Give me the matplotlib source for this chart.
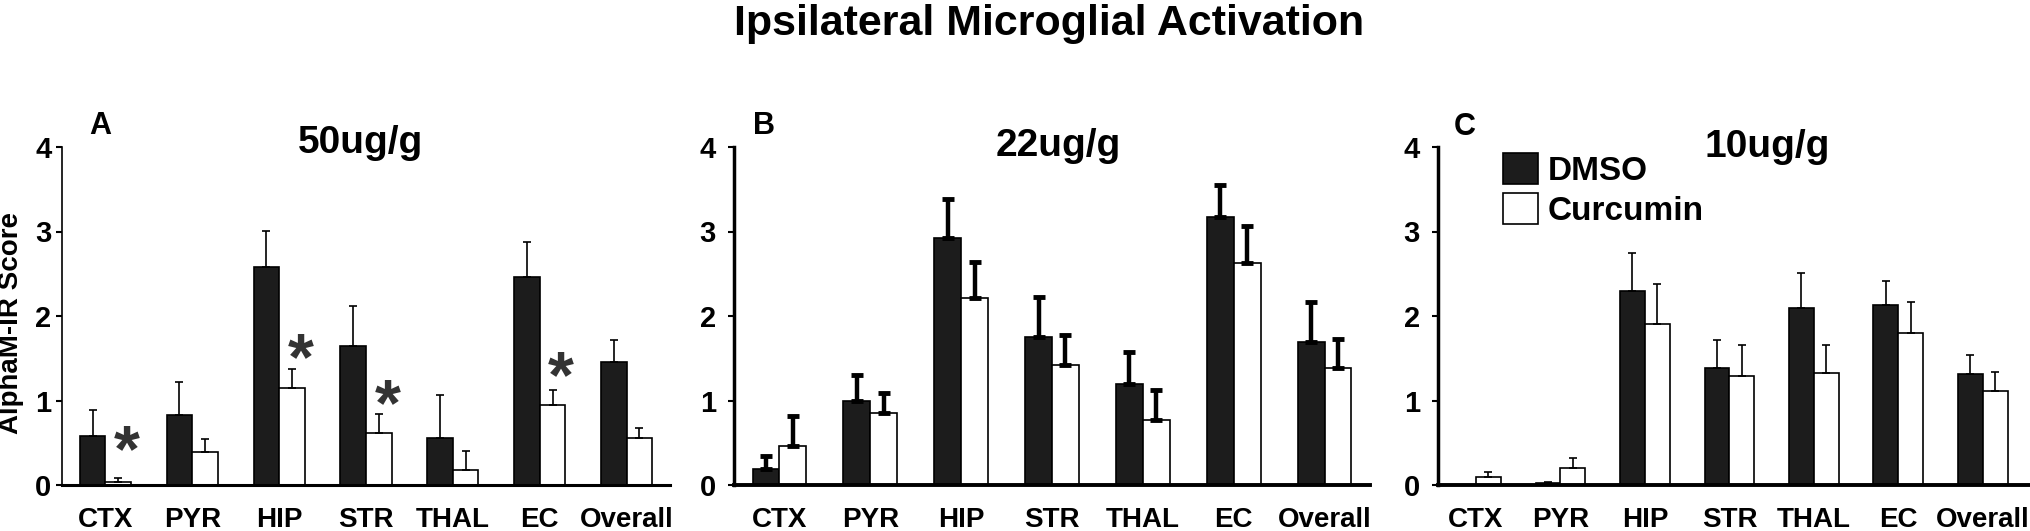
import matplotlib.pyplot as plt
import numpy as np

plt.rcParams['font.family'] = ['Liberation Sans', 'DejaVu Sans']
plt.rcParams['font.weight'] = 'bold'

regions = ['CTX', 'PYR', 'HIP', 'STR', 'THAL', 'EC', 'Overall']
doses = ['50ug/g', '22ug/g', '10ug/g']
panel_letters = ['A', 'B', 'C']

# mean AlphaM-IR score and one-sided error
dmso_50 = [0.58, 0.83, 2.58, 1.65, 0.56, 2.46, 1.45]
dmso_50_err = [0.31, 0.39, 0.43, 0.47, 0.50, 0.42, 0.27]
curc_50 = [0.04, 0.39, 1.15, 0.62, 0.18, 0.95, 0.56]
curc_50_err = [0.04, 0.16, 0.22, 0.22, 0.22, 0.17, 0.11]

dmso_22 = [0.19, 1.00, 2.92, 1.75, 1.20, 3.17, 1.69]
dmso_22_err = [0.15, 0.30, 0.46, 0.48, 0.37, 0.38, 0.48]
curc_22 = [0.46, 0.85, 2.21, 1.42, 0.77, 2.63, 1.38]
curc_22_err = [0.36, 0.24, 0.43, 0.35, 0.35, 0.44, 0.35]

dmso_10 = [0.0, 0.02, 2.29, 1.38, 2.09, 2.13, 1.31]
dmso_10_err = [0.0, 0.015, 0.46, 0.34, 0.42, 0.29, 0.23]
curc_10 = [0.09, 0.20, 1.91, 1.29, 1.33, 1.80, 1.11]
curc_10_err = [0.06, 0.12, 0.47, 0.37, 0.33, 0.36, 0.23]

# significance stars in panel A (category, height of star centre)
star_regions = ['CTX', 'HIP', 'STR', 'EC']
star_y = [0.59, 1.68, 1.14, 1.47]

W, H = 2031, 531
fig = plt.figure(figsize=(W / 100, H / 100), dpi=100)

# axes boxes in pixels: left, right, xlim
boxes = [(62, 670, (-0.5, 6.5)), (734, 1370, (-0.5, 6.5)), (1438, 2031, (-0.45, 6.57))]
y0, y4 = 485, 147

data = [(dmso_50, dmso_50_err, curc_50, curc_50_err),
        (dmso_22, dmso_22_err, curc_22, curc_22_err),
        (dmso_10, dmso_10_err, curc_10, curc_10_err)]

x = np.arange(len(regions))
bw = 0.295

for i, ((l, r, xl), (d, de, c, ce)) in enumerate(zip(boxes, data)):
    ax = fig.add_axes([l / W, 1 - y0 / H, (r - l) / W, (y0 - y4) / H])
    thick = (i == 1)
    elw = 3.2 if thick else 1.2
    cap = 4.2 if thick else 3.2
    capt = 3.5 if thick else 1.2
    ax.bar(x - bw / 2, d, bw, color='#1c1c1c', edgecolor='black', linewidth=1.2,
           yerr=[np.zeros(len(d)), de], capsize=cap,
           error_kw=dict(elinewidth=elw, capthick=capt, ecolor='black'),
           label='DMSO', zorder=2)
    ax.bar(x + bw / 2, c, bw, color='white', edgecolor='black', linewidth=1.2,
           yerr=[np.zeros(len(c)), ce], capsize=cap,
           error_kw=dict(elinewidth=elw, capthick=capt, ecolor='black'),
           label='Curcumin', zorder=2)

    ax.set_xlim(*xl)
    ax.set_ylim(0, 4)
    ax.set_yticks([0, 1, 2, 3, 4])
    ax.set_xticks(x)
    ax.set_xticklabels(regions, fontsize=20, fontweight='bold')
    ax.tick_params(axis='x', length=0, pad=16)
    ax.tick_params(axis='y', direction='out', length=4, width=1.5,
                   labelsize=21, pad=9 if i else 3.5)
    for sp in ['top', 'right']:
        ax.spines[sp].set_visible(False)
    ax.spines['bottom'].set_linewidth(2.2 if i == 0 else 2.8)
    ax.spines['left'].set_linewidth(1.2 if i == 0 else 2.5)
    ax.spines['left'].set_bounds(0, 4)
    ax.patch.set_alpha(0)
    for lab in ax.get_yticklabels():
        lab.set_fontweight('bold')

    if i == 0:
        for reg, sy in zip(star_regions, star_y):
            k = regions.index(reg)
            ax.annotate('*', (k + bw / 2 + 0.1, sy), xytext=(0, -26),
                        textcoords='offset points', ha='center', va='baseline',
                        fontsize=48, color='#333333', fontweight='bold')
    if i == 2:
        fig.legend(*ax.get_legend_handles_labels(), loc='upper left',
                   bbox_to_anchor=(1503 / W, 1 - 153 / H), frameon=False,
                   handlelength=1.05, handleheight=1.05,
                   handletextpad=0.3, labelspacing=0.2, borderpad=0,
                   borderaxespad=0, prop=dict(weight='bold', size=24))

fig.text(24 / W, 1 - 323 / H, 'AlphaM-IR Score', rotation=90, fontsize=20,
         fontweight='bold', ha='right', va='center')

letter_pos = [(100, 126), (764, 126), (1465, 127)]
dose_pos = [(360, 143), (1058, 146), (1767, 147)]
for (lx, ly), letter in zip(letter_pos, panel_letters):
    fig.text(lx / W, 1 - ly / H, letter, fontsize=22, fontweight='bold',
             ha='center', va='center')
for (dx, dy), dose in zip(dose_pos, doses):
    fig.text(dx / W, 1 - dy / H, dose, fontsize=28, fontweight='bold',
             ha='center', va='center')

fig.text(1049 / W, 1 - 24 / H, 'Ipsilateral Microglial Activation', fontsize=31,
         fontweight='bold', ha='center', va='center')

fig.savefig('out.png', dpi=100, facecolor='white')
